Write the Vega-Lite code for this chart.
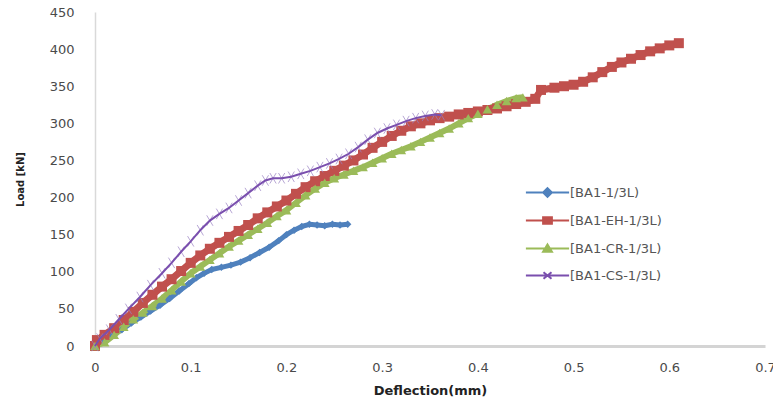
{
  "$schema": "https://vega.github.io/schema/vega-lite/v6.json",
  "width": 670,
  "height": 334,
  "autosize": {"type": "none"},
  "padding": {"left": 95, "top": 12, "right": 8, "bottom": 58},
  "background": "white",
  "config": {"view": {"stroke": null}, "font": "DejaVu Sans"},
  "data": {"values": [
    {"series": "[BA1-1/3L)", "d": 0, "load": 0},
    {"series": "[BA1-1/3L)", "d": 0.008, "load": 6},
    {"series": "[BA1-1/3L)", "d": 0.018, "load": 14},
    {"series": "[BA1-1/3L)", "d": 0.028, "load": 22},
    {"series": "[BA1-1/3L)", "d": 0.038, "load": 31},
    {"series": "[BA1-1/3L)", "d": 0.048, "load": 39},
    {"series": "[BA1-1/3L)", "d": 0.058, "load": 47},
    {"series": "[BA1-1/3L)", "d": 0.068, "load": 55},
    {"series": "[BA1-1/3L)", "d": 0.078, "load": 64},
    {"series": "[BA1-1/3L)", "d": 0.088, "load": 74},
    {"series": "[BA1-1/3L)", "d": 0.098, "load": 84},
    {"series": "[BA1-1/3L)", "d": 0.106, "load": 92},
    {"series": "[BA1-1/3L)", "d": 0.114, "load": 98},
    {"series": "[BA1-1/3L)", "d": 0.122, "load": 103},
    {"series": "[BA1-1/3L)", "d": 0.132, "load": 106},
    {"series": "[BA1-1/3L)", "d": 0.142, "load": 109},
    {"series": "[BA1-1/3L)", "d": 0.152, "load": 113},
    {"series": "[BA1-1/3L)", "d": 0.162, "load": 119},
    {"series": "[BA1-1/3L)", "d": 0.172, "load": 126},
    {"series": "[BA1-1/3L)", "d": 0.182, "load": 133},
    {"series": "[BA1-1/3L)", "d": 0.192, "load": 142},
    {"series": "[BA1-1/3L)", "d": 0.2, "load": 150},
    {"series": "[BA1-1/3L)", "d": 0.208, "load": 156},
    {"series": "[BA1-1/3L)", "d": 0.216, "load": 161},
    {"series": "[BA1-1/3L)", "d": 0.224, "load": 164},
    {"series": "[BA1-1/3L)", "d": 0.232, "load": 163},
    {"series": "[BA1-1/3L)", "d": 0.24, "load": 162},
    {"series": "[BA1-1/3L)", "d": 0.248, "load": 164},
    {"series": "[BA1-1/3L)", "d": 0.256, "load": 163},
    {"series": "[BA1-1/3L)", "d": 0.264, "load": 164},

    {"series": "[BA1-EH-1/3L)", "d": 0, "load": 0},
    {"series": "[BA1-EH-1/3L)", "d": 0.002, "load": 8},
    {"series": "[BA1-EH-1/3L)", "d": 0.01, "load": 15},
    {"series": "[BA1-EH-1/3L)", "d": 0.02, "load": 24},
    {"series": "[BA1-EH-1/3L)", "d": 0.03, "load": 35},
    {"series": "[BA1-EH-1/3L)", "d": 0.04, "load": 46},
    {"series": "[BA1-EH-1/3L)", "d": 0.05, "load": 58},
    {"series": "[BA1-EH-1/3L)", "d": 0.06, "load": 69},
    {"series": "[BA1-EH-1/3L)", "d": 0.07, "load": 80},
    {"series": "[BA1-EH-1/3L)", "d": 0.08, "load": 90},
    {"series": "[BA1-EH-1/3L)", "d": 0.09, "load": 101},
    {"series": "[BA1-EH-1/3L)", "d": 0.1, "load": 112},
    {"series": "[BA1-EH-1/3L)", "d": 0.11, "load": 122},
    {"series": "[BA1-EH-1/3L)", "d": 0.12, "load": 131},
    {"series": "[BA1-EH-1/3L)", "d": 0.13, "load": 139},
    {"series": "[BA1-EH-1/3L)", "d": 0.14, "load": 147},
    {"series": "[BA1-EH-1/3L)", "d": 0.15, "load": 155},
    {"series": "[BA1-EH-1/3L)", "d": 0.16, "load": 163},
    {"series": "[BA1-EH-1/3L)", "d": 0.17, "load": 172},
    {"series": "[BA1-EH-1/3L)", "d": 0.18, "load": 180},
    {"series": "[BA1-EH-1/3L)", "d": 0.19, "load": 188},
    {"series": "[BA1-EH-1/3L)", "d": 0.2, "load": 196},
    {"series": "[BA1-EH-1/3L)", "d": 0.21, "load": 205},
    {"series": "[BA1-EH-1/3L)", "d": 0.22, "load": 214},
    {"series": "[BA1-EH-1/3L)", "d": 0.23, "load": 222},
    {"series": "[BA1-EH-1/3L)", "d": 0.24, "load": 229},
    {"series": "[BA1-EH-1/3L)", "d": 0.25, "load": 236},
    {"series": "[BA1-EH-1/3L)", "d": 0.26, "load": 243},
    {"series": "[BA1-EH-1/3L)", "d": 0.27, "load": 250},
    {"series": "[BA1-EH-1/3L)", "d": 0.28, "load": 258},
    {"series": "[BA1-EH-1/3L)", "d": 0.29, "load": 267},
    {"series": "[BA1-EH-1/3L)", "d": 0.3, "load": 275},
    {"series": "[BA1-EH-1/3L)", "d": 0.31, "load": 283},
    {"series": "[BA1-EH-1/3L)", "d": 0.32, "load": 290},
    {"series": "[BA1-EH-1/3L)", "d": 0.33, "load": 296},
    {"series": "[BA1-EH-1/3L)", "d": 0.34, "load": 300},
    {"series": "[BA1-EH-1/3L)", "d": 0.35, "load": 304},
    {"series": "[BA1-EH-1/3L)", "d": 0.36, "load": 307},
    {"series": "[BA1-EH-1/3L)", "d": 0.37, "load": 309},
    {"series": "[BA1-EH-1/3L)", "d": 0.38, "load": 312},
    {"series": "[BA1-EH-1/3L)", "d": 0.39, "load": 314},
    {"series": "[BA1-EH-1/3L)", "d": 0.4, "load": 316},
    {"series": "[BA1-EH-1/3L)", "d": 0.41, "load": 318},
    {"series": "[BA1-EH-1/3L)", "d": 0.42, "load": 320},
    {"series": "[BA1-EH-1/3L)", "d": 0.43, "load": 323},
    {"series": "[BA1-EH-1/3L)", "d": 0.44, "load": 326},
    {"series": "[BA1-EH-1/3L)", "d": 0.45, "load": 329},
    {"series": "[BA1-EH-1/3L)", "d": 0.46, "load": 333},
    {"series": "[BA1-EH-1/3L)", "d": 0.466, "load": 345},
    {"series": "[BA1-EH-1/3L)", "d": 0.48, "load": 348},
    {"series": "[BA1-EH-1/3L)", "d": 0.49, "load": 350},
    {"series": "[BA1-EH-1/3L)", "d": 0.5, "load": 352},
    {"series": "[BA1-EH-1/3L)", "d": 0.51, "load": 356},
    {"series": "[BA1-EH-1/3L)", "d": 0.52, "load": 362},
    {"series": "[BA1-EH-1/3L)", "d": 0.53, "load": 369},
    {"series": "[BA1-EH-1/3L)", "d": 0.54, "load": 376},
    {"series": "[BA1-EH-1/3L)", "d": 0.55, "load": 382},
    {"series": "[BA1-EH-1/3L)", "d": 0.56, "load": 387},
    {"series": "[BA1-EH-1/3L)", "d": 0.57, "load": 392},
    {"series": "[BA1-EH-1/3L)", "d": 0.58, "load": 397},
    {"series": "[BA1-EH-1/3L)", "d": 0.59, "load": 401},
    {"series": "[BA1-EH-1/3L)", "d": 0.6, "load": 405},
    {"series": "[BA1-EH-1/3L)", "d": 0.61, "load": 408},

    {"series": "[BA1-CR-1/3L)", "d": 0, "load": 0},
    {"series": "[BA1-CR-1/3L)", "d": 0.01, "load": 5},
    {"series": "[BA1-CR-1/3L)", "d": 0.02, "load": 15},
    {"series": "[BA1-CR-1/3L)", "d": 0.03, "load": 26},
    {"series": "[BA1-CR-1/3L)", "d": 0.04, "load": 36},
    {"series": "[BA1-CR-1/3L)", "d": 0.05, "load": 45},
    {"series": "[BA1-CR-1/3L)", "d": 0.06, "load": 54},
    {"series": "[BA1-CR-1/3L)", "d": 0.07, "load": 64},
    {"series": "[BA1-CR-1/3L)", "d": 0.08, "load": 75},
    {"series": "[BA1-CR-1/3L)", "d": 0.09, "load": 87},
    {"series": "[BA1-CR-1/3L)", "d": 0.1, "load": 98},
    {"series": "[BA1-CR-1/3L)", "d": 0.11, "load": 107},
    {"series": "[BA1-CR-1/3L)", "d": 0.12, "load": 116},
    {"series": "[BA1-CR-1/3L)", "d": 0.13, "load": 125},
    {"series": "[BA1-CR-1/3L)", "d": 0.14, "load": 134},
    {"series": "[BA1-CR-1/3L)", "d": 0.15, "load": 142},
    {"series": "[BA1-CR-1/3L)", "d": 0.16, "load": 150},
    {"series": "[BA1-CR-1/3L)", "d": 0.17, "load": 158},
    {"series": "[BA1-CR-1/3L)", "d": 0.18, "load": 166},
    {"series": "[BA1-CR-1/3L)", "d": 0.19, "load": 175},
    {"series": "[BA1-CR-1/3L)", "d": 0.2, "load": 183},
    {"series": "[BA1-CR-1/3L)", "d": 0.21, "load": 193},
    {"series": "[BA1-CR-1/3L)", "d": 0.22, "load": 203},
    {"series": "[BA1-CR-1/3L)", "d": 0.23, "load": 212},
    {"series": "[BA1-CR-1/3L)", "d": 0.24, "load": 220},
    {"series": "[BA1-CR-1/3L)", "d": 0.25, "load": 226},
    {"series": "[BA1-CR-1/3L)", "d": 0.26, "load": 231},
    {"series": "[BA1-CR-1/3L)", "d": 0.27, "load": 236},
    {"series": "[BA1-CR-1/3L)", "d": 0.28, "load": 241},
    {"series": "[BA1-CR-1/3L)", "d": 0.29, "load": 247},
    {"series": "[BA1-CR-1/3L)", "d": 0.3, "load": 253},
    {"series": "[BA1-CR-1/3L)", "d": 0.31, "load": 259},
    {"series": "[BA1-CR-1/3L)", "d": 0.32, "load": 264},
    {"series": "[BA1-CR-1/3L)", "d": 0.33, "load": 269},
    {"series": "[BA1-CR-1/3L)", "d": 0.34, "load": 275},
    {"series": "[BA1-CR-1/3L)", "d": 0.35, "load": 281},
    {"series": "[BA1-CR-1/3L)", "d": 0.36, "load": 287},
    {"series": "[BA1-CR-1/3L)", "d": 0.37, "load": 293},
    {"series": "[BA1-CR-1/3L)", "d": 0.38, "load": 300},
    {"series": "[BA1-CR-1/3L)", "d": 0.39, "load": 307},
    {"series": "[BA1-CR-1/3L)", "d": 0.4, "load": 313},
    {"series": "[BA1-CR-1/3L)", "d": 0.41, "load": 319},
    {"series": "[BA1-CR-1/3L)", "d": 0.42, "load": 325},
    {"series": "[BA1-CR-1/3L)", "d": 0.43, "load": 330},
    {"series": "[BA1-CR-1/3L)", "d": 0.44, "load": 334},
    {"series": "[BA1-CR-1/3L)", "d": 0.447, "load": 335},

    {"series": "[BA1-CS-1/3L)", "d": 0, "load": 0},
    {"series": "[BA1-CS-1/3L)", "d": 0.005, "load": 10},
    {"series": "[BA1-CS-1/3L)", "d": 0.015, "load": 22},
    {"series": "[BA1-CS-1/3L)", "d": 0.025, "load": 36},
    {"series": "[BA1-CS-1/3L)", "d": 0.035, "load": 50},
    {"series": "[BA1-CS-1/3L)", "d": 0.047, "load": 66},
    {"series": "[BA1-CS-1/3L)", "d": 0.058, "load": 82},
    {"series": "[BA1-CS-1/3L)", "d": 0.07, "load": 98},
    {"series": "[BA1-CS-1/3L)", "d": 0.08, "load": 112},
    {"series": "[BA1-CS-1/3L)", "d": 0.09, "load": 127},
    {"series": "[BA1-CS-1/3L)", "d": 0.1, "load": 141},
    {"series": "[BA1-CS-1/3L)", "d": 0.11, "load": 156},
    {"series": "[BA1-CS-1/3L)", "d": 0.12, "load": 169},
    {"series": "[BA1-CS-1/3L)", "d": 0.13, "load": 178},
    {"series": "[BA1-CS-1/3L)", "d": 0.14, "load": 186},
    {"series": "[BA1-CS-1/3L)", "d": 0.15, "load": 196},
    {"series": "[BA1-CS-1/3L)", "d": 0.16, "load": 206},
    {"series": "[BA1-CS-1/3L)", "d": 0.17, "load": 216},
    {"series": "[BA1-CS-1/3L)", "d": 0.178, "load": 223},
    {"series": "[BA1-CS-1/3L)", "d": 0.186, "load": 226},
    {"series": "[BA1-CS-1/3L)", "d": 0.195, "load": 226},
    {"series": "[BA1-CS-1/3L)", "d": 0.205, "load": 228},
    {"series": "[BA1-CS-1/3L)", "d": 0.215, "load": 232},
    {"series": "[BA1-CS-1/3L)", "d": 0.225, "load": 236},
    {"series": "[BA1-CS-1/3L)", "d": 0.235, "load": 241},
    {"series": "[BA1-CS-1/3L)", "d": 0.245, "load": 246},
    {"series": "[BA1-CS-1/3L)", "d": 0.255, "load": 252},
    {"series": "[BA1-CS-1/3L)", "d": 0.265, "load": 259},
    {"series": "[BA1-CS-1/3L)", "d": 0.275, "load": 268},
    {"series": "[BA1-CS-1/3L)", "d": 0.285, "load": 278},
    {"series": "[BA1-CS-1/3L)", "d": 0.295, "load": 287},
    {"series": "[BA1-CS-1/3L)", "d": 0.305, "load": 293},
    {"series": "[BA1-CS-1/3L)", "d": 0.315, "load": 298},
    {"series": "[BA1-CS-1/3L)", "d": 0.325, "load": 303},
    {"series": "[BA1-CS-1/3L)", "d": 0.335, "load": 307},
    {"series": "[BA1-CS-1/3L)", "d": 0.345, "load": 310},
    {"series": "[BA1-CS-1/3L)", "d": 0.355, "load": 312},
    {"series": "[BA1-CS-1/3L)", "d": 0.362, "load": 311}
  ]},
  "encoding": {
    "x": {
      "field": "d", "type": "quantitative",
      "scale": {"domain": [0, 0.7], "nice": false, "zero": false},
      "axis": {
        "title": "Deflection(mm)",
        "values": [0, 0.1, 0.2, 0.3, 0.4, 0.5, 0.6, 0.7],
        "labelExpr": "datum.value === 0 ? '0' : format(datum.value, '.1f')",
        "grid": false, "ticks": false,
        "domainColor": "#d4d4d4", "domainWidth": 3,
        "labelFont": "DejaVu Sans", "labelFontSize": 13, "labelColor": "#4a4a4a",
        "labelPadding": 15, "labelFlush": false,
        "titleFont": "DejaVu Sans", "titleFontSize": 13, "titleFontWeight": "bold",
        "titleColor": "#222222", "titlePadding": 10
      }
    },
    "y": {
      "field": "load", "type": "quantitative",
      "scale": {"domain": [0, 450], "nice": false},
      "axis": {
        "title": "Load [kN]",
        "values": [0, 50, 100, 150, 200, 250, 300, 350, 400, 450],
        "grid": false, "ticks": false,
        "domainColor": "#d9d9d9", "domainWidth": 1.5,
        "labelFont": "DejaVu Sans", "labelFontSize": 13, "labelColor": "#4a4a4a",
        "labelPadding": 21,
        "titleFont": "DejaVu Sans", "titleFontSize": 10, "titleFontWeight": "bold",
        "titleColor": "#222222", "titlePadding": 24
      }
    }
  },
  "layer": [
    {
      "transform": [{"filter": "datum.series === '[BA1-1/3L)'"}],
      "mark": {"type": "line", "strokeWidth": 5, "color": "#4F81BD", "strokeJoin": "round"}
    },
    {
      "transform": [{"filter": "datum.series === '[BA1-EH-1/3L)'"}],
      "mark": {"type": "line", "strokeWidth": 7, "color": "#C0504D", "strokeJoin": "round"}
    },
    {
      "transform": [{"filter": "datum.series === '[BA1-CR-1/3L)'"}],
      "mark": {"type": "line", "strokeWidth": 6, "color": "#9BBB59", "strokeJoin": "round"}
    },
    {
      "transform": [{"filter": "datum.series === '[BA1-1/3L)'"}],
      "mark": {"type": "point", "shape": "diamond", "filled": true, "size": 55, "color": "#4F81BD", "opacity": 1}
    },
    {
      "transform": [{"filter": "datum.series === '[BA1-EH-1/3L)'"}],
      "mark": {"type": "point", "shape": "square", "filled": true, "size": 100, "color": "#C0504D", "opacity": 1}
    },
    {
      "transform": [{"filter": "datum.series === '[BA1-CR-1/3L)'"}],
      "mark": {"type": "point", "shape": "triangle-up", "filled": true, "size": 95, "color": "#9BBB59", "opacity": 1}
    },
    {
      "transform": [{"filter": "datum.series === '[BA1-CS-1/3L)'"}],
      "mark": {"type": "point", "shape": "M-0.6,-1L0.6,1M0.6,-1L-0.6,1", "filled": false, "size": 110, "strokeWidth": 1, "color": "#9a82c4", "opacity": 0.7}
    },
    {
      "transform": [{"filter": "datum.series === '[BA1-CS-1/3L)'"}],
      "mark": {"type": "line", "strokeWidth": 2},
      "encoding": {
        "color": {
          "field": "series", "type": "nominal",
          "scale": {
            "domain": ["[BA1-1/3L)", "[BA1-EH-1/3L)", "[BA1-CR-1/3L)", "[BA1-CS-1/3L)"],
            "range": ["#4F81BD", "#C0504D", "#9BBB59", "#7a4fae"]
          },
          "legend": {
            "title": null,
            "orient": "none",
            "legendX": 446,
            "legendY": 174,
            "padding": 0,
            "symbolSize": 64,
            "labelOffset": 16,
            "rowPadding": 12,
            "labelFont": "DejaVu Sans",
            "labelFontSize": 13,
            "labelColor": "#555555",
            "encode": {
              "symbols": {
                "update": {
                  "shape": {"signal": "datum.value === '[BA1-1/3L)' ? 'M-5.4,0H5.4M0,-1.1L1.1,0L0,1.1L-1.1,0Z' : datum.value === '[BA1-EH-1/3L)' ? 'M-5.4,0H5.4M-1.1,-0.8H1.1V0.8H-1.1Z' : datum.value === '[BA1-CR-1/3L)' ? 'M-5.4,0H5.4M0,-1L1.1,0.8L-1.1,0.8Z' : 'M-5.4,0H5.4M-1,-0.8L1,0.8M-1,0.8L1,-0.8'"},
                  "fill": {"scale": "color", "field": "value"},
                  "stroke": {"scale": "color", "field": "value"},
                  "strokeWidth": {"value": 2},
                  "opacity": {"value": 1},
                  "fillOpacity": {"value": 1}
                }
              }
            }
          }
        }
      }
    }
  ]
}
